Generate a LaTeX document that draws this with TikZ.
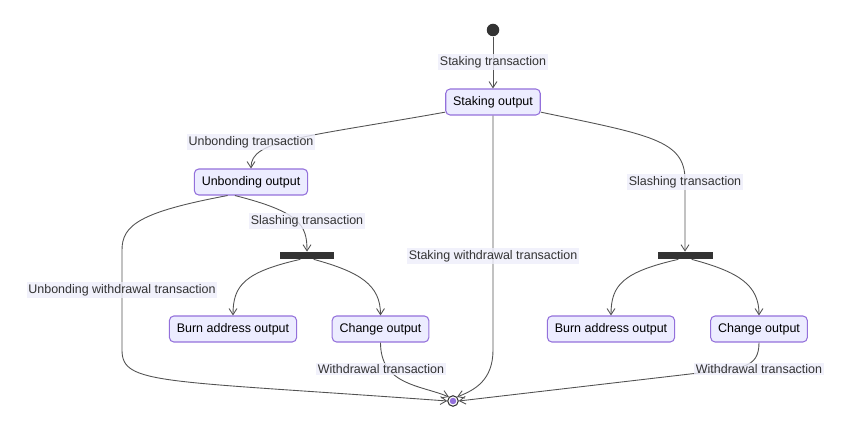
\documentclass[tikz,border=0pt]{standalone}
\usepackage{fontspec}
\setmainfont{Liberation Sans}
\usetikzlibrary{arrows.meta}
\definecolor{inkgray}{HTML}{333333}
\definecolor{statefill}{HTML}{ECECFF}
\definecolor{stateline}{HTML}{9370DB}
\definecolor{labelbg}{HTML}{EDEDFA}
\tikzset{
  state/.style={draw=stateline,fill=statefill,rounded corners=2.5pt,line width=0.6pt,
    minimum height=0.52cm,inner xsep=4.2pt,text=black},
  tlabel/.style={fill=labelbg,fill opacity=0.8,text opacity=1,inner sep=1pt,text=inkgray},
  forkbar/.style={fill=inkgray,minimum width=1.1cm,minimum height=0.14cm,inner sep=0pt},
  edge/.style={draw=inkgray!85,line width=0.5pt,-{Straight Barb[length=3.5pt,width=4.5pt]}}
}
\begin{document}
\begin{tikzpicture}[x=0.02cm,y=-0.02cm,font=\fontsize{7.1}{8.5}\selectfont]
  \useasboundingbox (0,0) rectangle (865,445);
  \node[circle,fill=inkgray,minimum size=0.25cm,inner sep=0pt] (start) at (493,30) {};
  \node[state] (staking) at (493,102) {Staking output};
  \node[state] (unbonding) at (251,182) {Unbonding output};
  \node[forkbar] (forkL) at (307,255.5) {};
  \node[forkbar] (forkR) at (685,255.5) {};
  \node[state] (burnL) at (233,329) {Burn address output};
  \node[state] (changeL) at (380.5,329) {Change output};
  \node[state] (burnR) at (611,329) {Burn address output};
  \node[state] (changeR) at (759,329) {Change output};
  \node[circle,draw=inkgray,fill=white,line width=0.6pt,minimum size=0.21cm,inner sep=0pt] (end) at (453,401) {};
  \fill[stateline] (end) circle (0.065cm);
  \draw[edge] (start) -- (staking);
  \draw[edge] (staking.192) .. controls (300,138) and (251,140) .. (unbonding.north);
  \draw[edge] (staking.-12) .. controls (650,135) and (685,140) .. (685,180) -- (forkR.north);
  \draw[edge] (staking.south) -- (493,350) .. controls (493,380) and (475,390) .. (end.45);
  \draw[edge] (unbonding.-140) .. controls (300,212) and (307,225) .. (forkL.north);
  \draw[edge] (unbonding.-150) .. controls (140,212) and (122,225) .. (122,250) -- (122,350)
    .. controls (122,385) and (160,380) .. (end.west);
  \draw[edge] (forkL.-150) .. controls (245,272) and (233,285) .. (burnL.north);
  \draw[edge] (forkL.-30) .. controls (360,272) and (380.5,285) .. (changeL.north);
  \draw[edge] (forkR.-150) .. controls (623,272) and (611,285) .. (burnR.north);
  \draw[edge] (forkR.-30) .. controls (739,272) and (759,285) .. (changeR.north);
  \draw[edge] (changeL.south) .. controls (380.5,385) and (420,385) .. (end.135);
  \draw[edge] (changeR.south) .. controls (759,370) and (740,368) .. (690,374) -- (end.east);
  \node[tlabel] (lstake) at (493,62) {Staking transaction};
  \node[tlabel] (lunbond) at (251,142) {Unbonding transaction};
  \node[tlabel] (lslashR) at (685,182) {Slashing transaction};
  \node[tlabel] (lslashL) at (307,221) {Slashing transaction};
  \node[tlabel] (lstakewd) at (493,256) {Staking withdrawal transaction};
  \node[tlabel] (lunbondwd) at (122,290) {Unbonding withdrawal transaction};
  \node[tlabel] (lwdL) at (381,369) {Withdrawal transaction};
  \node[tlabel] (lwdR) at (759,369) {Withdrawal transaction};
\end{tikzpicture}
\end{document}
